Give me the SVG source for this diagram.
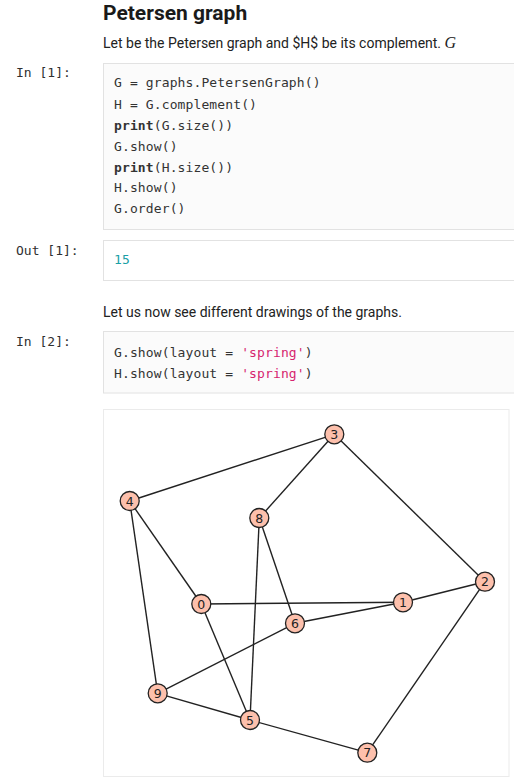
<svg xmlns="http://www.w3.org/2000/svg" width="514" height="779" viewBox="0 0 514 779">
<style>
.h{font-family:Roboto,"Liberation Sans",sans-serif;font-weight:bold;font-size:21px;fill:#1a1a1a}
.p{font-family:Roboto,"Liberation Sans",sans-serif;font-size:14px;fill:#222}
.pr{font-family:"DejaVu Sans Mono","Liberation Mono",monospace;font-size:13px;fill:#303030}
.c{font-family:"DejaVu Sans Mono","Liberation Mono",monospace;font-size:13px;fill:#333;letter-spacing:0.12px}
.b{font-weight:bold}
.s{fill:#d6246e}
.box{fill:#fbfbfb;stroke:#e2e2e2;stroke-width:1}
.e line{stroke:#222;stroke-width:1.4}
.n circle{fill:#fdc0ac;stroke:#222;stroke-width:1.3}
.n text{font-family:"DejaVu Sans",sans-serif;font-size:12.5px;fill:#222;text-anchor:middle}
</style>
<rect width="514" height="779" fill="#fff"/>
<text class="h" x="103" y="20">Petersen graph</text>
<text class="p" x="103" y="48">Let be the Petersen graph and $H$ be its complement. <tspan font-family="'Liberation Serif',serif" font-style="italic" font-size="16">G</tspan></text>

<text class="pr" x="16" y="77">In [1]:</text>
<rect class="box" x="103.5" y="63.5" width="420" height="166"/>
<text class="c" x="114" y="87">G = graphs.PetersenGraph()</text>
<text class="c" x="114" y="108.5">H = G.complement()</text>
<text class="c" x="114" y="130"><tspan class="b">print</tspan>(G.size())</text>
<text class="c" x="114" y="150.7">G.show()</text>
<text class="c" x="114" y="171.7"><tspan class="b">print</tspan>(H.size())</text>
<text class="c" x="114" y="192">H.show()</text>
<text class="c" x="114" y="212.7">G.order()</text>

<text class="pr" x="16" y="255">Out [1]:</text>
<rect class="box" x="103.5" y="240.5" width="420" height="40" style="fill:#fff"/>
<text class="c" x="114" y="264" style="fill:#1aa0a6">15</text>

<text class="p" x="103" y="317">Let us now see different drawings of the graphs.</text>

<text class="pr" x="16" y="346">In [2]:</text>
<rect class="box" x="103.5" y="331.5" width="420" height="61.5"/>
<text class="c" x="114" y="357">G.show(layout = <tspan class="s">'spring'</tspan>)</text>
<text class="c" x="114" y="378">H.show(layout = <tspan class="s">'spring'</tspan>)</text>

<rect x="103.5" y="409.5" width="405.5" height="367" fill="#fff" stroke="#ebebeb" stroke-width="1"/>

<g class="e" id="edges">
<line x1="334.3" y1="434.3" x2="129.7" y2="501"/>
<line x1="334.3" y1="434.3" x2="259.3" y2="518"/>
<line x1="334.3" y1="434.3" x2="485" y2="581.7"/>
<line x1="129.7" y1="501" x2="201.3" y2="604"/>
<line x1="129.7" y1="501" x2="157.7" y2="693.3"/>
<line x1="259.3" y1="518" x2="250" y2="720"/>
<line x1="259.3" y1="518" x2="295" y2="623.3"/>
<line x1="485" y1="581.7" x2="403" y2="602.3"/>
<line x1="485" y1="581.7" x2="367.3" y2="752.7"/>
<line x1="201.3" y1="604" x2="403" y2="602.3"/>
<line x1="201.3" y1="604" x2="250" y2="720"/>
<line x1="295" y1="623.3" x2="403" y2="602.3"/>
<line x1="295" y1="623.3" x2="157.7" y2="693.3"/>
<line x1="157.7" y1="693.3" x2="250" y2="720"/>
<line x1="250" y1="720" x2="367.3" y2="752.7"/>
</g>

<g class="n" id="n0"><circle cx="201.3" cy="604" r="9.5"/><text x="201.3" y="608.5">0</text></g>
<g class="n" id="n1"><circle cx="403" cy="602.3" r="9.5"/><text x="403" y="606.8">1</text></g>
<g class="n" id="n2"><circle cx="485" cy="581.7" r="9.5"/><text x="485" y="586.2">2</text></g>
<g class="n" id="n3"><circle cx="334.3" cy="434.3" r="9.5"/><text x="334.3" y="438.8">3</text></g>
<g class="n" id="n4"><circle cx="129.7" cy="501" r="9.5"/><text x="129.7" y="505.5">4</text></g>
<g class="n" id="n5"><circle cx="250" cy="720" r="9.5"/><text x="250" y="724.5">5</text></g>
<g class="n" id="n6"><circle cx="295" cy="623.3" r="9.5"/><text x="295" y="627.8">6</text></g>
<g class="n" id="n7"><circle cx="367.3" cy="752.7" r="9.5"/><text x="367.3" y="757.2">7</text></g>
<g class="n" id="n8"><circle cx="259.3" cy="518" r="9.5"/><text x="259.3" y="522.5">8</text></g>
<g class="n" id="n9"><circle cx="157.7" cy="693.3" r="9.5"/><text x="157.7" y="697.8">9</text></g>
</svg>
